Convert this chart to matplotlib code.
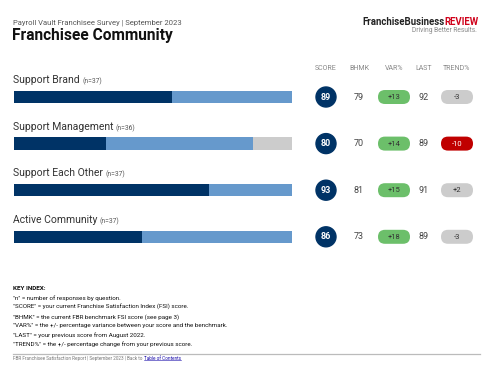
"""Franchisee Community page: stacked satisfaction bars with score columns."""

import matplotlib.pyplot as plt
from matplotlib.patches import Circle, FancyBboxPatch
import numpy as np

plt.rcParams["font.family"] = ["Roboto", "DejaVu Sans"]

categories = ["Support Brand", "Support Management", "Support Each Other", "Active Community"]
responses = [37, 36, 37, 37]
# share of responses (%) per segment: dark / light / grey
seg_dark = [57, 33, 70, 46]
seg_light = [43, 53, 30, 54]
seg_grey = [0, 14, 0, 0]

score = [89, 80, 93, 86]
bhmk = [79, 70, 81, 73]
var_pct = [13, 14, 15, 18]
last = [92, 89, 91, 89]
trend_pct = [-3, -10, 2, -3]

headers = ["SCORE", "BHMK", "VAR%", "LAST", "TREND%"]
key_lines = [
    '"n" = number of responses by question.',
    '"SCORE" = your current Franchise Satisfaction Index (FSI) score.',
    '"BHMK" = the current FBR benchmark FSI score (see page 3)',
    '"VAR%" = the +/- percentage variance between your score and the benchmark.',
    '"LAST" = your previous score from August 2022.',
    '"TREND%" = the +/- percentage change from your previous score.',
]

DARK = "#003366"
LIGHT = "#6699cc"
GREY = "#cccccc"
GREEN = "#6cbf6a"
RED = "#c00000"
W, H = 500, 378

fig = plt.figure(figsize=(5, 3.78), dpi=100)

# bar axes: row i centred at pixel y = 97 + 46.6 * i
row0, step = 97.0, 46.6
top_px = row0 - 0.5 * step
bot_px = row0 + 3.5 * step
ax = fig.add_axes([14 / W, 1 - bot_px / H, (292 - 14) / W, (bot_px - top_px) / H])
y = np.arange(len(categories))
bh = 12.5 / step
ax.barh(y, seg_dark, height=bh, color=DARK, linewidth=0)
ax.barh(y, seg_light, left=seg_dark, height=bh, color=LIGHT, linewidth=0)
ax.barh(y, seg_grey, left=np.add(seg_dark, seg_light), height=bh, color=GREY, linewidth=0)
ax.set_xlim(0, 100)
ax.set_ylim(3.5, -0.5)
ax.axis("off")

# overlay in pixel coordinates for text and badges
ov = fig.add_axes([0, 0, 1, 1], zorder=3)
ov.set_xlim(0, W)
ov.set_ylim(H, 0)
ov.axis("off")

ov.text(13, 23, "Payroll Vault Franchisee Survey | September 2023", fontsize=5.5,
        color="#555555", va="center")
ov.text(12, 35.5, "Franchisee Community", fontsize=11.2, fontweight="bold",
        color="#111111", va="center")

logo = ov.text(362, 22, "FranchiseBusiness", fontsize=6.9, color="#222222",
               va="center", fontweight="semibold")
ov.annotate("REVIEW", xy=(1, 0.5), xycoords=logo, va="center", fontsize=6.9,
            color="#d0021b", fontweight="bold")
ov.text(477, 30.5, "Driving Better Results.", fontsize=4.8, color="#888888",
        ha="right", va="center")

col_x = [326, 359, 394, 424, 457]
for hx, h in zip(col_x, headers):
    ov.text(hx, 68, h, fontsize=5, color="#888888", ha="center", va="center")

for i, cat in enumerate(categories):
    ry = row0 + step * i
    lab = ov.text(13, ry - 17, cat, fontsize=7.5, color="#333333", va="center")
    ov.annotate(f"(n={responses[i]})", xy=(1, 0.35), xycoords=lab,
                xytext=(2.5, 0), textcoords="offset pixels", fontsize=4.9,
                color="#555555", va="center")

    ov.add_patch(Circle((col_x[0], ry), 10, color=DARK, zorder=2))
    ov.text(col_x[0], ry, str(score[i]), fontsize=6.5, color="white",
            fontweight="bold", ha="center", va="center", zorder=3)
    ov.text(col_x[1], ry, str(bhmk[i]), fontsize=6.5, color="#444444",
            ha="center", va="center")
    ov.text(col_x[3], ry, str(last[i]), fontsize=6.5, color="#444444",
            ha="center", va="center")

    for cx, val in ((col_x[2], var_pct[i]), (col_x[4], trend_pct[i])):
        if cx == col_x[2]:
            fc = GREEN
        elif val <= -5:
            fc = RED
        else:
            fc = GREY
        ov.add_patch(FancyBboxPatch((cx - 16, ry - 7), 32, 14,
                                    boxstyle="round,pad=0,rounding_size=7",
                                    fc=fc, ec="none", zorder=2))
        tc = "white" if fc == RED else "#333333"
        ov.text(cx, ry, f"{val:+d}", fontsize=5.5, color=tc, ha="center",
                va="center", zorder=3)

ov.text(13, 289, "KEY INDEX:", fontsize=4.6, fontweight="bold", color="#111111",
        va="center")
for k, line in enumerate(key_lines):
    ov.text(13, 298.3 + 9.2 * k, line, fontsize=4.5, color="#111111", va="center")

ov.plot([13, 480], [354, 354], color="#bbbbbb", linewidth=0.9)
foot = ov.text(13, 358, "FBR Franchisee Satisfaction Report | September 2023 | Back to ",
               fontsize=3.3, color="#777777", va="center")
toc = ov.annotate("Table of Contents", xy=(1, 0.5), xycoords=foot, fontsize=3.3,
                  color="#1a0dab", va="center")

fig.canvas.draw()
bb = toc.get_window_extent().transformed(ov.transData.inverted())
y_under = max(bb.y0, bb.y1) - 0.3
ov.plot([bb.x0, bb.x1], [y_under, y_under], color="#1a0dab", linewidth=0.4)

fig.savefig("out.png", dpi=100, facecolor="white")
